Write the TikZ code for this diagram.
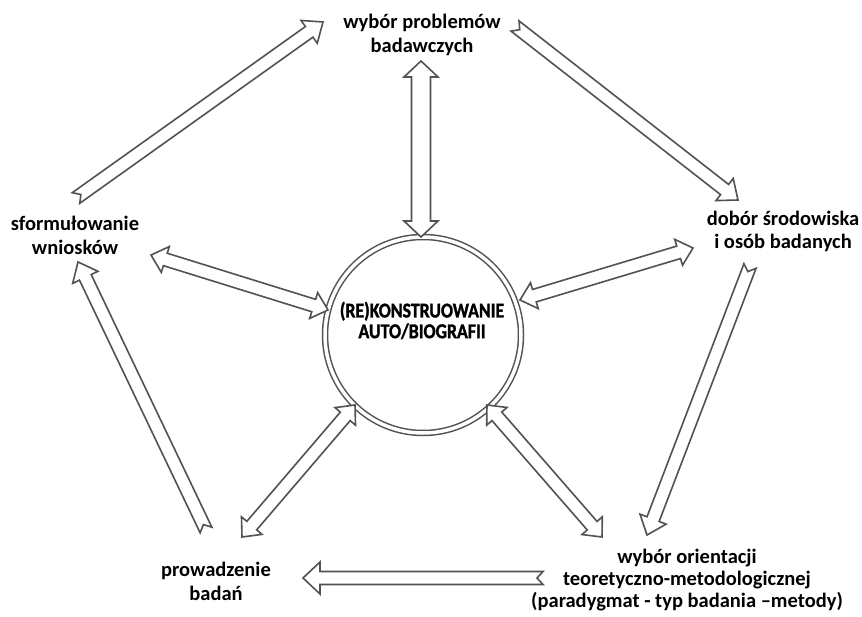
\documentclass[tikz,border=0pt]{standalone}
\usepackage{fontspec}
\setmainfont{Carlito}
\newfontfamily\heavyfont[BoldFeatures={FakeBold=1.6}]{Carlito}
\usetikzlibrary{calc}
\tikzset{
  blockarrow/.style={draw=black!68, line width=1.6pt, fill=white, line join=miter},
  lbl/.style={font=\bfseries\fontsize{20.5}{23.5}\selectfont, align=center, inner sep=0pt, text=black},
}
% double-headed block arrow: A, B, shaft half-width, head half-width, head length
\newcommand\dblarr[5]{%
  \coordinate (qa) at ($(#1)!#5!(#2)$);
  \coordinate (qb) at ($(#2)!#5!(#1)$);
  \draw[blockarrow] (#1)
    -- ($(qa)!#4!90:(#2)$) -- ($(qa)!#3!90:(#2)$)
    -- ($(qb)!#3!90:(#2)$) -- ($(qb)!#4!90:(#2)$)
    -- (#2)
    -- ($(qb)!#4!-90:(#2)$) -- ($(qb)!#3!-90:(#2)$)
    -- ($(qa)!#3!-90:(#2)$) -- ($(qa)!#4!-90:(#2)$)
    -- cycle;}
% notched single block arrow: tail, tip, shaft half-width, head half-width, head length, notch
\newcommand\sglarr[6]{%
  \coordinate (qb) at ($(#2)!#5!(#1)$);
  \draw[blockarrow] ($(#1)!#6!(#2)$)
    -- ($(#1)!#3!90:(#2)$)
    -- ($(qb)!#3!90:(#2)$) -- ($(qb)!#4!90:(#2)$)
    -- (#2)
    -- ($(qb)!#4!-90:(#2)$) -- ($(qb)!#3!-90:(#2)$)
    -- ($(#1)!#3!-90:(#2)$)
    -- cycle;}
\begin{document}
\begin{tikzpicture}[x=1pt,y=-1pt]
\useasboundingbox[fill=white] (0,0) rectangle (862,617);

% labels
\node[lbl] (top) at (422,35) {wybór problemów\\badawczych};
\node[lbl] (right) at (783,231.5) {dobór środowiska\\i osób badanych};
\node[lbl] (left) at (75,235.5) {sformułowanie\\[1pt]wniosków};
\node[lbl] (bl) at (216,581.5) {prowadzenie\\badań};
\node[lbl, font=\bfseries\fontsize{20.5}{22}\selectfont] (br) at (687,580) {wybór orientacji\\teoretyczno-metodologicznej\\(paradygmat - typ badania –metody)};

% central circle
\node[draw=black!68, double, double distance=3.5pt, line width=1.5pt, circle,
      minimum size=196pt, inner sep=0pt] (c) at (423,335) {};
\node[inner sep=0pt, font=\heavyfont\bfseries\fontsize{21}{20}\selectfont] (ctext) at (422,323)
  {\scalebox{0.85}[1]{\begin{tabular}{@{}c@{}}(RE)KONSTRUOWANIE\\AUTO/BIOGRAFII\end{tabular}}};

% arrow end points
\coordinate (v1) at (421,61);   \coordinate (v2) at (421,237);
\coordinate (l1) at (151,255);  \coordinate (l2) at (328,310);
\coordinate (r1) at (693,248);  \coordinate (r2) at (520,300);
\coordinate (ll1) at (242,537); \coordinate (ll2) at (355,405);
\coordinate (lr1) at (602,537); \coordinate (lr2) at (487,405);

\coordinate (a1t) at (76,198);  \coordinate (a1h) at (323,22);
\coordinate (a2t) at (515,26);  \coordinate (a2h) at (738,200);
\coordinate (a3t) at (750,266); \coordinate (a3h) at (647,535);
\coordinate (a4t) at (543,578); \coordinate (a4h) at (303,578);
\coordinate (a5t) at (206,530); \coordinate (a5h) at (78,262);

% spokes
\dblarr{v1}{v2}{9.5pt}{17pt}{16pt}
\dblarr{l1}{l2}{6.5pt}{13.5pt}{15pt}
\dblarr{r1}{r2}{6.5pt}{13.5pt}{15pt}
\dblarr{ll1}{ll2}{6.5pt}{13.5pt}{15pt}
\dblarr{lr1}{lr2}{6.5pt}{13.5pt}{15pt}

% cycle
\sglarr{a1t}{a1h}{6.5pt}{14pt}{17pt}{6pt}
\sglarr{a2t}{a2h}{6.5pt}{14pt}{17pt}{6pt}
\sglarr{a3t}{a3h}{6.5pt}{14pt}{17pt}{6pt}
\sglarr{a4t}{a4h}{6.5pt}{16pt}{17pt}{6pt}
\sglarr{a5t}{a5h}{6.5pt}{14pt}{17pt}{6pt}
\end{tikzpicture}
\end{document}
